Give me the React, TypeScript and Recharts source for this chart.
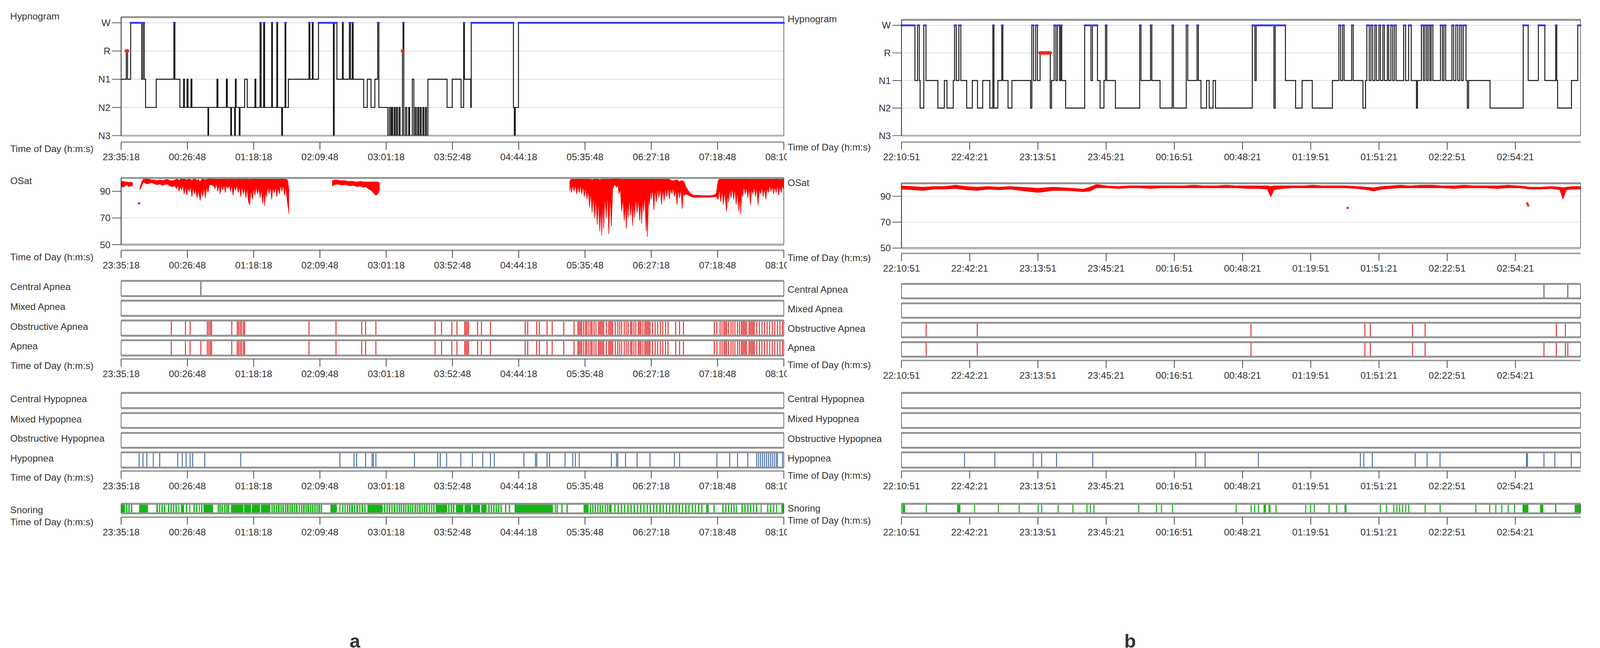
import React from 'react';
import {
  ComposedChart,
  Line,
  Area,
  XAxis,
  YAxis,
  CartesianGrid,
  ReferenceLine,
  ReferenceArea,
  ReferenceDot,
} from 'recharts';

// ---- data (times are minutes from the start of each recording) ----

const STAGES = ['N3', 'N2', 'N1', 'R', 'W'];

const A_END = 515;
const A_TICKS = [0, 51.5, 103, 154.5, 206, 257.5, 309, 360.5, 412, 463.5, 515];
const A_TICK_LABELS = ['23:35:18', '00:26:48', '01:18:18', '02:09:48', '03:01:18', '03:52:48', '04:44:18', '05:35:48', '06:27:18', '07:18:48', '08:10:18'];

const B_END = 313.6;
const B_TICKS = [0, 31.5, 63, 94.5, 126, 157.5, 189, 220.5, 252, 283.5];
const B_TICK_LABELS = ['22:10:51', '22:42:21', '23:13:51', '23:45:21', '00:16:51', '00:48:21', '01:19:51', '01:51:21', '02:22:51', '02:54:21'];

// hypnogram transitions: [minute, stage index]
const HYPNO_A = [
  [0, 2], [4, 3], [5, 2], [7.4, 4], [16, 2], [17, 4], [18, 2], [19, 1], [27.3, 2], [41, 4], [41.8, 2], [45.7, 1],
  [48.5, 2], [49.3, 1], [51.2, 2], [52, 1], [54.3, 2], [55, 1], [67.5, 0], [68, 1], [74.5, 2], [75.2, 1], [81.8, 2],
  [82.5, 1], [85.2, 0], [85.8, 1], [88.2, 0], [88.8, 2], [89.4, 1], [91.8, 0], [92.4, 1], [96, 2], [98, 1], [104, 2],
  [104.7, 1], [108, 4], [108.8, 1], [110.8, 4], [111.5, 1], [117, 4], [117.6, 1], [121, 4], [121.6, 1], [124.8, 0],
  [125.4, 1], [127.4, 4], [128, 1], [130, 2], [146, 4], [146.7, 2], [148.6, 4], [149.2, 2], [153.4, 4], [165, 0],
  [165.6, 4], [167.7, 2], [172, 4], [172.6, 2], [177.4, 4], [178.2, 2], [179.6, 4], [180.3, 2], [188.5, 1], [191.3, 2],
  [194.2, 1], [197.2, 2], [199.4, 4], [200.3, 1], [207.3, 0], [208.5, 1], [209.5, 0], [210.3, 1], [211, 0], [212.2, 1],
  [213, 0], [214, 1], [214.8, 0], [216, 1], [216.8, 0], [218.6, 3], [219.1, 4], [219.7, 0], [221, 1], [222, 0],
  [223.5, 1], [224.2, 0], [226.3, 2], [227.5, 0], [228.5, 1], [229.4, 0], [230.5, 1], [231.3, 0], [232.4, 1], [233.2, 0],
  [234.5, 1], [235.3, 0], [236.5, 1], [237.3, 0], [238.4, 2], [253.3, 1], [257.3, 2], [264.2, 1], [266.2, 4], [266.8, 2],
  [271.7, 1], [272.1, 4], [304.9, 1], [305.6, 0], [306.3, 1], [308.8, 4],
];

const HYPNO_B = [
  [0, 4], [6.2, 2], [7.4, 4], [8.2, 2], [8.6, 1], [10.3, 4], [11.3, 2], [16.8, 1], [19.8, 2], [21, 1], [23.9, 2],
  [24.5, 4], [25.3, 2], [26.5, 4], [27.4, 2], [30.1, 1], [32.7, 2], [35.1, 1], [37.5, 2], [40.8, 1], [42.2, 4], [42.7, 1],
  [44.5, 2], [46.3, 4], [46.8, 2], [49.2, 1], [51, 2], [59.6, 1], [60.2, 4], [61, 2], [62, 4], [62.8, 2], [64, 3],
  [68.7, 1], [69.3, 2], [70.5, 4], [71.3, 2], [72, 4], [73, 2], [73.5, 4], [74, 2], [75.8, 1], [84.6, 4], [87.5, 2],
  [88.2, 4], [90.5, 2], [91.7, 1], [93.5, 2], [94.2, 4], [94.8, 2], [98.8, 1], [110, 4], [110.6, 2], [115, 4], [115.6, 2],
  [119.4, 1], [125, 4], [125.6, 1], [131.5, 4], [132.2, 2], [136.5, 4], [137.1, 2], [138.3, 1], [140.9, 2], [142.1, 1],
  [143.9, 2], [145, 1], [162, 4], [163.2, 2], [163.8, 4], [172, 1], [172.6, 4], [177.3, 2], [182, 1], [185, 2],
  [189.7, 1], [199, 2], [202, 4], [202.8, 2], [203.7, 4], [204.4, 2], [207.9, 4], [208.6, 2], [213.1, 1], [214.3, 2],
  [214.9, 4], [216, 2], [216.8, 4], [217.6, 2], [218.6, 4], [219.3, 2], [220.5, 4], [221.2, 2], [222.3, 4], [223, 2],
  [224.4, 4], [225, 2], [226, 4], [226.8, 2], [227.6, 4], [228.4, 2], [231.9, 4], [232.8, 2], [234.2, 4], [235.4, 2],
  [237.8, 1], [238.3, 2], [240.1, 4], [241, 2], [241.7, 4], [242.5, 2], [243.2, 4], [244, 2], [244.6, 4], [245.4, 2],
  [248.9, 4], [249.8, 2], [250.5, 4], [251.3, 2], [254.2, 4], [255, 2], [256, 4], [256.9, 2], [257.8, 4], [258.6, 2],
  [259.4, 4], [260.7, 2], [261.3, 1], [261.9, 2], [271.8, 1], [287.1, 4], [289.4, 2], [294.1, 4], [297.1, 2],
  [302.1, 4], [302.6, 2], [303, 1], [309.4, 2], [312.3, 4],
];

// oxygen saturation: [minute, low, high] per interval, null = no signal
const OSAT_A = [
  [0, 94, 97], [1.5, 93, 97.5], [3, 94, 97], [4.5, 95, 97], [6, 93.5, 96.5], [7.5, 94, 97], [9, 94, 96], [10, null, null],
  [14.5, 91, 92], [16, 94, 97], [17.5, 97, 99.5], [19, 96, 100], [20.5, 95.5, 99], [22, 96, 99], [24, 96.5, 98.5],
  [26, 95.5, 98.5], [28, 95, 98], [30, 95.5, 98.5], [32, 94.5, 98], [34, 95, 98.5], [36, 95.5, 99], [38, 94, 98],
  [40, 93.5, 98], [42, 94, 98.5], [43, 92, 99], [44, 95, 99], [45, 90, 98], [46, 94, 99], [47, 91, 99], [48, 95, 99],
  [49, 88, 99], [50, 94, 99], [51, 87, 98.5], [52, 93, 99], [53, 90, 99], [54, 94, 99], [55, 86, 98], [56, 93, 99],
  [57, 88, 99.5], [58, 92, 99], [59, 85, 98], [60, 91, 99], [61.5, 83, 97], [62.5, 92, 99], [63.5, 86, 99], [64.5, 93, 99],
  [65.5, 85, 98.5], [66.5, 94, 99], [67.5, 89, 99], [68.5, 95, 99.5], [70, 95, 99.5], [72, 94, 99], [73, 92, 99],
  [74, 96, 99], [75, 90, 99], [76, 95, 99], [77, 88, 99], [78, 95, 99], [79, 91, 99.5], [80, 95, 99.5], [81, 89, 99],
  [82, 95, 99], [83, 92, 99], [84, 95, 99], [85, 90, 99.5], [86, 95, 99.5], [87, 87, 99], [88, 94, 99], [89, 91, 99],
  [90, 95, 99], [91, 89, 99.5], [92, 94, 99.5], [93, 86, 99], [94, 94, 99], [95, 88, 99], [96, 94, 99], [97, 85, 99.5],
  [98, 93, 99.5], [99, 82, 99], [100, 80, 99], [101, 92, 99], [102, 84, 99], [103, 93, 99.5], [104, 87, 99.5],
  [105, 94, 99], [106, 88, 99], [107, 93, 99], [108, 85, 99], [109, 92, 99], [110, 81, 99], [111, 90, 99],
  [111.5, 79, 99], [112.5, 92, 99], [113, 86, 99.5], [114, 94, 99], [115, 88, 99], [116, 94, 99], [117, 84, 99],
  [118, 93, 99], [119, 89, 99.5], [120, 94, 99], [121, 86, 99], [122, 93, 99], [123, 88, 99], [124, 95, 99],
  [125, 90, 99.5], [126, 95, 99], [127, 87, 99], [128, 94, 99], [128.5, 88, 99], [129.5, 80, 98], [130.5, 73, 90],
  [131, null, null],
  [164, 94, 98], [166, 95, 98.5], [168, 95.5, 98.5], [170, 95, 98], [172, 94.5, 98], [174, 95, 98], [176, 94.5, 97.5],
  [178, 94, 97.5], [180, 94.5, 97.5], [182, 94, 97], [184, 93.5, 97], [186, 94, 97.5], [188, 93, 97], [190, 93.5, 97],
  [192, 92, 97], [194, 91, 97], [196, 89, 97], [198, 87, 97], [199.5, 88, 97], [201, 91, 96], [202, null, null],
  [348.5, 90, 97], [349.5, 95, 99], [350, 89, 99], [351, 95, 99], [352, 90, 99], [353, 95, 99], [354, 88, 99],
  [355, 94, 99], [356, 89, 99], [357, 95, 99], [358, 88, 99.5], [359, 94, 99], [360, 86, 99], [361, 93, 99],
  [362, 84, 99], [363, 92, 99], [364, 78, 99], [365, 90, 99], [366, 74, 98.5], [367, 88, 99], [368, 70, 99],
  [369, 86, 99], [370, 65, 99], [371, 84, 99], [372, 60, 98.5], [373, 80, 99], [373.5, 57, 99], [374.5, 85, 99],
  [375, 62, 99], [376, 88, 99], [377, 70, 99], [378, 90, 99], [379, 58, 99], [380, 88, 99], [381, 64, 99],
  [382, 92, 99.5], [383, 94, 100], [384, 95, 100], [385, 93, 100], [386, 95, 99.5], [387, 88, 99.5], [388, 92, 99],
  [389, 75, 99], [390, 85, 99], [391, 68, 99], [392, 82, 99], [392.5, 62, 99], [393.5, 84, 99], [394, 70, 99],
  [395, 86, 99], [396, 72, 99], [397, 84, 99], [397.5, 64, 99], [398.5, 85, 99], [399, 70, 99], [400, 86, 99],
  [401, 74, 99], [402, 85, 99], [403, 68, 99], [404, 84, 99], [404.5, 66, 99], [405.5, 86, 99], [406, 75, 99],
  [407, 88, 99], [408, 60, 99], [408.5, 80, 99], [409, 56, 99], [410, 88, 99], [410.5, 80, 99], [411.5, 92, 99.5],
  [412, 84, 99.5], [413, 93, 99], [414, 76, 99], [415, 92, 99], [416, 82, 99], [417, 93, 99], [418, 85, 99.5],
  [419, 93, 99], [420, 80, 99], [421, 92, 99], [422, 83, 99], [423, 93, 99], [424, 86, 99], [425, 94, 99],
  [426, 84, 99], [427, 93, 98.5], [428, 88, 98], [429, 93, 98], [430, 86, 98], [431, 92, 98.5], [432, 80, 98.5],
  [433, 92, 98], [434, 85, 97], [435, 92, 98], [436, 77, 98], [437, 90, 97.5], [437.5, 87, 97], [439, 88, 93],
  [441, 87, 90], [443, 86, 88], [445, 85.5, 87], [448, 85.5, 87], [451, 85.5, 86.8], [454, 85.5, 86.8],
  [457, 85.5, 86.8], [460, 85.8, 87], [462.5, 86, 88], [464, 84, 98], [465, 92, 99], [466, 82, 99], [467, 91, 99],
  [468, 80, 99], [469, 90, 99], [470.5, 75, 99], [471.5, 90, 99], [472, 82, 99.5], [473, 92, 99], [474, 85, 99],
  [475, 93, 99], [476, 84, 99], [477, 92, 99], [478, 80, 99], [479, 91, 99], [480, 75, 99], [481, 88, 99],
  [481.5, 73, 99], [482.5, 92, 99], [483, 86, 99], [484, 94, 99], [485, 88, 99.5], [486, 94, 99], [487, 85, 99],
  [488, 93, 99], [489, 80, 99], [490, 92, 99], [491, 88, 99], [492, 94, 99], [493, 86, 99], [494, 93, 99],
  [495, 80, 99], [496, 92, 99], [497, 88, 99], [498, 94, 99], [499, 86, 99], [500, 93, 99], [501, 84, 99],
  [502, 93, 99], [503, 89, 99.5], [504, 95, 99], [505, 90, 99], [506, 94, 99], [507, 88, 99], [508, 94, 99],
  [509, 89, 99.5], [510, 95, 99], [511, 87, 99], [512, 94, 99], [513, 89, 99], [514, 95, 99], [515, 91, 99],
];
const OSAT_A_DOTS = [[14, 81]];

const OSAT_B = [
  [0, 95.5, 98], [5, 95, 97.5], [10, 94.5, 97], [15, 95.5, 97.5], [20, 95.5, 97.5], [25, 96, 98.5], [30, 95, 97.5],
  [35, 94.5, 97], [40, 95.5, 97.5], [45, 95, 97], [50, 95.5, 97.5], [55, 94.5, 97], [60, 93.5, 96.5], [63, 93, 96],
  [66, 93.5, 96.5], [70, 94.5, 97], [75, 94.5, 96.5], [80, 94, 96], [84, 93.5, 95.5], [87, 94, 97], [90, 96.5, 99],
  [95, 96.5, 98], [100, 96, 97.5], [105, 96.5, 98], [110, 96.5, 98], [115, 96, 98], [120, 96.5, 98], [125, 96.5, 98],
  [130, 96.5, 98], [135, 96.5, 98.5], [140, 96.5, 98], [145, 96.5, 98], [150, 96.5, 98.5], [155, 96.5, 98], [160, 96, 98],
  [165, 96, 98], [169, 95.5, 98], [170.5, 89.5, 97.5], [172, 95, 98], [176, 96, 98], [180, 96.5, 98], [185, 96.5, 98],
  [190, 96.5, 98.5], [195, 96.5, 98], [200, 96.5, 98], [205, 96.5, 98], [210, 96, 97.5], [215, 95, 97], [218, 94, 96.5],
  [222, 95.5, 97.5], [226, 96, 98], [230, 96.5, 98.5], [235, 96.5, 98], [240, 96.5, 98.5], [245, 96.5, 98.5],
  [250, 96.5, 98], [255, 96, 98], [260, 96.5, 98.5], [265, 96.5, 98], [270, 96.5, 98], [275, 96, 98], [280, 96.5, 98.5],
  [285, 96.5, 98], [288, 96, 97.5], [290, 95.5, 97], [295, 95.5, 97], [300, 96, 97.5], [304, 95, 97], [305.5, 88, 96.5],
  [307, 95, 97], [310, 95.5, 97.5], [313.6, 95.5, 97.5],
];
const OSAT_B_DOTS = [[206, 81], [289, 84.5], [289.4, 83]];

// respiratory events (minute of each event)
const CENTRAL_APNEA_A = [62];
const MIXED_APNEA_A = [];
const OBSTRUCTIVE_APNEA_A = [
  39, 50, 53.6, 67, 68.2, 69.3, 70.3, 86, 90.3, 91.3, 92.5, 93.6, 95, 96, 146, 167, 187, 190, 198, 244, 249, 257, 261,
  267, 268, 269, 270, 277, 280, 287, 314, 316, 323, 325, 331, 335, 344, 352, 355, 356, 357, 358, 359.5, 361, 362, 363.5,
  365, 366, 367.5, 369, 371, 372, 373, 374, 375, 377, 379, 380, 381, 382, 384, 386, 387.5, 389, 391, 392.5, 394, 396,
  397, 398.5, 400, 402, 403, 404, 405.5, 407, 408, 409, 410, 411, 413, 415, 417, 419, 421, 423, 425, 431, 434, 437,
  461, 463, 465.5, 467, 468.5, 469.5, 470.5, 472, 474, 475.5, 477, 479, 480.5, 482, 483, 484, 485, 486, 488, 489, 490,
  491, 492, 494, 496, 498, 500, 502, 504, 506, 508, 510, 512, 514,
];
const HYPOPNEA_A = [
  14, 17, 20, 25, 30, 44, 47.5, 50.5, 53.6, 55.6, 65, 93, 170, 181, 183, 190, 195, 196, 198, 228, 246, 248, 253, 264,
  273, 281, 287, 290, 313, 322, 323, 331, 333, 345, 351, 353, 356, 381, 385, 386, 392, 401, 411, 430, 434, 463, 473,
  479, 487, 494, 495.5, 497, 498.5, 500, 501.5, 503, 504.5, 506, 507.5, 509, 510, 514,
];
const SNORING_A = [
  [0, 3.1], [3.8, 4.9], [5.6, 6.7], [7.6, 8.7], [14, 20.9], [27.4, 28.6], [29.5, 30.4], [31.3, 32.4], [33.3, 34.4],
  [36.3, 37.4], [38.3, 39.4], [40.2, 41.3], [42.2, 43.3], [44.5, 45.3], [46.5, 48.9], [50.3, 51.4], [53, 53.8],
  [56.1, 57.2], [58.2, 59.3], [60.4, 61.2], [62.1, 63.2], [64, 71.5], [75, 76.1], [76.5, 77.5], [78, 79.1], [80, 81.1],
  [81.6, 82.7], [83, 84.1], [85.4, 95], [95.5, 101], [101.6, 108], [108.6, 116], [116.8, 117.8], [118.3, 119.5],
  [120.3, 121.3], [121.8, 123.2], [123.8, 124.8], [125.3, 126.5], [127.3, 128.3], [128.8, 130.2], [130.8, 131.8],
  [132.3, 133.6], [134.3, 135.3], [135.8, 137.2], [138, 139], [139.8, 140.9], [141.4, 142.7], [143.3, 144.3],
  [144.8, 146.2], [146.8, 147.8], [148.3, 149.5], [150.1, 151.2], [151.8, 152.8], [153.3, 154.6], [155.1, 156.2],
  [162.7, 167.7], [169.5, 170.4], [171.8, 172.8], [173.6, 174.5], [175.4, 176.4], [177.1, 178.2], [178.8, 180.2],
  [181, 182], [182.8, 184.2], [185, 186], [186.8, 188.2], [189, 190], [191.4, 203.3], [204.3, 205.4], [206.2, 207.3],
  [208, 209.2], [210, 211], [211.8, 213.2], [214, 215], [215.7, 216.8], [217.3, 218.3], [219, 220.2], [220.8, 221.8],
  [222.5, 223.7], [224.4, 225.4], [226.1, 227.2], [228, 229.2], [229.8, 230.8], [231.5, 232.8], [233.5, 234.5],
  [235.3, 236.4], [237, 238.2], [239, 240], [240.8, 241.8], [242.5, 243.6], [244.4, 253.3], [254.2, 255.3],
  [256.1, 257.2], [257.8, 259], [260.2, 266], [266.8, 272], [273, 279], [279.8, 284], [285.3, 286.4], [287.2, 288.3],
  [289.1, 290.2], [291, 292.1], [292.8, 294], [294.8, 295.8], [298.3, 299.3], [301.3, 302.3], [305.8, 335.6],
  [337, 337.8], [338.4, 339.4], [342.1, 343.1], [346.1, 347.1], [359.4, 363.3], [364.3, 365.3], [366.1, 367.2],
  [368, 369], [370, 371], [371.8, 372.8], [373.8, 374.8], [375.8, 376.8], [377.6, 378.6], [379.2, 381.2], [383.2, 384.2],
  [385.8, 386.8], [388.3, 389.4], [390.8, 391.8], [393.4, 394.4], [395.8, 396.8], [398.3, 399.4], [400.8, 401.8],
  [403.3, 404.4], [405.8, 406.8], [408.4, 409.4], [410.8, 411.8], [413.3, 414.4], [415.8, 416.8], [418.3, 419.4],
  [420.8, 421.8], [423.4, 424.4], [425.8, 426.8], [428.3, 429.4], [430.8, 431.8], [433.3, 434.4], [435.8, 436.8],
  [438.3, 439.4], [440.8, 441.8], [443.4, 444.4], [445.8, 446.8], [448.3, 449.4], [450.8, 451.8], [454.6, 456.6],
  [460.3, 461.3], [467.2, 468.2], [469.4, 470.4], [471.6, 472.6], [473.8, 474.8], [475.8, 476.8], [477.8, 478.6],
  [482.1, 483.2], [484.3, 485.3], [486.6, 487.6], [488.8, 489.8], [491, 492], [493.3, 494.4], [497, 497.8],
  [502, 503], [504.3, 505.3], [506.6, 507.6], [509, 509.8], [513.1, 515],
];

const CENTRAL_APNEA_B = [296.7, 307.7];
const MIXED_APNEA_B = [];
const OBSTRUCTIVE_APNEA_B = [11.4, 35, 161.4, 214, 216.5, 236, 241.8, 302.4, 306.6];
const HYPOPNEA_B = [
  29.1, 43.1, 60.8, 64.7, 71.6, 88.3, 135.9, 140.2, 164.8, 211.9, 213.5, 217.4, 237.2, 242.7, 248.7, 288.6, 289.1,
  296.7, 301.7, 309.3,
];
const SNORING_B = [
  [0.4, 1.7], [11.2, 11.7], [25.7, 27.2], [33.5, 34], [44.5, 45], [54.1, 54.6], [62.9, 63.4], [64.5, 65], [72.1, 72.6],
  [78.9, 79.4], [85.4, 85.9], [87, 87.5], [88.6, 89.1], [109.3, 109.8], [117.5, 118], [119.8, 120.3], [124.9, 125.4],
  [154.3, 154.8], [161.2, 161.7], [162.8, 163.3], [164.6, 165.1], [167.2, 168.3], [169.5, 170.4], [172.7, 173.2],
  [186.4, 186.9], [188.7, 189.2], [190.4, 190.9], [197.2, 197.7], [200.7, 201.2], [204.6, 205.5], [220.9, 221.4],
  [223.7, 224.2], [227.1, 227.6], [228.5, 229], [229.8, 230.3], [231.2, 231.7], [232.6, 233.1], [234, 234.5],
  [241.6, 242.1], [248.5, 249], [265, 265.5], [271.4, 271.9], [274.2, 274.7], [277, 277.5], [279.9, 280.4],
  [282.9, 283.4], [286.8, 289.5], [294.9, 296.4], [301.8, 302.4], [310.9, 313.6],
];

// ---- styling ----

const FONT = '"Liberation Sans", Arial, Helvetica, sans-serif';
const TXT = '#333';
const PAD = 8;
const BOTTOM = 26; // room under the plot for the lowest y tick label
const YW = 70;
const BORDER = '#929292';
const EDGE = '#444';
const APNEA_RED = '#e42424';
const tickStyle = { fontSize: 25, fill: TXT, fontFamily: FONT };

function Label({ x, y, text, size = 25, bold = false }) {
  return (
    <div
      style={{
        position: 'absolute', left: x, top: y, transform: 'translateY(-50%)', fontFamily: FONT,
        fontSize: size, color: TXT, whiteSpace: 'nowrap', lineHeight: 1, fontWeight: bold ? 700 : 400,
      }}
    >
      {text}
    </div>
  );
}

function Hypnogram({ x, w, y, h, end, data }) {
  const rows = data.map(([t, s]) => ({ t, s }));
  rows.push({ t: end, s: data[data.length - 1][1] });
  const epochs = data.map(([t, s], i) => ({ t0: t, t1: i + 1 < data.length ? data[i + 1][0] : end, s }));
  return (
    <div style={{ position: 'absolute', left: x - YW - PAD, top: y - PAD }}>
      <ComposedChart width={w + YW + 2 * PAD} height={h + PAD + BOTTOM} data={rows} margin={{ top: PAD, right: PAD, bottom: BOTTOM, left: PAD }}>
        <CartesianGrid vertical={false} stroke="#dedede" strokeWidth={2} />
        <XAxis type="number" dataKey="t" domain={[0, end]} allowDataOverflow hide />
        <YAxis
          type="number" domain={[0, 4.2]} ticks={[0, 1, 2, 3, 4]} interval={0} allowDataOverflow width={YW}
          tickFormatter={(v) => STAGES[v]} tickSize={24} tickMargin={4} tick={tickStyle}
          axisLine={{ stroke: '#222', strokeWidth: 2 }} tickLine={{ stroke: '#555', strokeWidth: 2 }}
        />
        <ReferenceLine y={4.2} stroke={BORDER} strokeWidth={5} />
        <ReferenceLine y={0} stroke="#b4b4b4" strokeWidth={5} />
        <ReferenceLine x={end} stroke={EDGE} strokeWidth={1.5} />
        <Line type="stepAfter" dataKey="s" stroke="#111" strokeWidth={2.4} dot={false} activeDot={false} isAnimationActive={false} />
        {epochs.filter((e) => e.s === 4).map((e, i) => (
          <ReferenceLine key={'w' + i} segment={[{ x: e.t0, y: 4 }, { x: e.t1, y: 4 }]} stroke="#3434ff" strokeWidth={5} strokeLinecap="round" />
        ))}
        {epochs.filter((e) => e.s === 3).map((e, i) => (
          <ReferenceLine key={'r' + i} segment={[{ x: e.t0, y: 3 }, { x: e.t1, y: 3 }]} stroke="#ff2020" strokeWidth={9} strokeLinecap="round" />
        ))}
      </ComposedChart>
    </div>
  );
}

function OSat({ x, w, y, h, end, data, dots }) {
  const rows = data.map(([t, lo, hi]) => ({ t, r: lo == null ? null : [lo, hi] }));
  return (
    <div style={{ position: 'absolute', left: x - YW - PAD, top: y - PAD }}>
      <ComposedChart width={w + YW + 2 * PAD} height={h + PAD + BOTTOM} data={rows} margin={{ top: PAD, right: PAD, bottom: BOTTOM, left: PAD }}>
        <CartesianGrid vertical={false} stroke="#e4e4e4" strokeWidth={2} />
        <XAxis type="number" dataKey="t" domain={[0, end]} allowDataOverflow hide />
        <YAxis
          type="number" domain={[50, 100]} ticks={[50, 70, 90]} interval={0} allowDataOverflow width={YW}
          tickSize={24} tickMargin={4} tick={tickStyle}
          axisLine={{ stroke: '#222', strokeWidth: 2 }} tickLine={{ stroke: '#555', strokeWidth: 2 }}
        />
        <ReferenceLine y={100} stroke={BORDER} strokeWidth={5} />
        <ReferenceLine y={50} stroke="#b4b4b4" strokeWidth={6} />
        <ReferenceLine x={end} stroke={EDGE} strokeWidth={1.5} />
        <Area
          type="linear" dataKey="r" stroke="#ff0000" strokeWidth={1.5} fill="#ff0000" fillOpacity={1}
          connectNulls={false} dot={false} activeDot={false} isAnimationActive={false}
        />
        {dots.map(([t, v], i) => (
          <ReferenceDot key={i} x={t} y={v} r={3} fill="#ff0000" stroke="none" />
        ))}
      </ComposedChart>
    </div>
  );
}

function EventRow({ x, w, y, h, end, events = [], intervals = [], color, width = 2 }) {
  return (
    <div style={{ position: 'absolute', left: x - PAD, top: y - PAD }}>
      <ComposedChart width={w + 2 * PAD} height={h + 2 * PAD} data={[{ t: 0, v: 0 }, { t: end, v: 1 }]} margin={{ top: PAD, right: PAD, bottom: PAD, left: PAD }}>
        <XAxis type="number" dataKey="t" domain={[0, end]} allowDataOverflow hide />
        <YAxis type="number" domain={[0, 1]} allowDataOverflow hide />
        <Line dataKey="v" stroke="none" dot={false} activeDot={false} isAnimationActive={false} />
        {intervals.map(([a, b], i) => (
          <ReferenceArea key={'i' + i} x1={a} x2={b} y1={0} y2={1} fill={color} fillOpacity={1} stroke="none" />
        ))}
        {events.map((t, i) => (
          <ReferenceLine key={'e' + i} x={t} stroke={color} strokeWidth={width} />
        ))}
        <ReferenceLine y={1} stroke={BORDER} strokeWidth={5} />
        <ReferenceLine y={0} stroke={BORDER} strokeWidth={5} />
        <ReferenceLine x={0} stroke={EDGE} strokeWidth={1.5} />
        <ReferenceLine x={end} stroke={EDGE} strokeWidth={1.5} />
      </ComposedChart>
    </div>
  );
}

function TimeAxis({ x, w, y, end, ticks, labels }) {
  const LEFT = 70;
  return (
    <div style={{ position: 'absolute', left: x - LEFT, top: y - 4 }}>
      <ComposedChart width={w + LEFT + PAD} height={74} data={[{ t: 0, v: 0 }, { t: end, v: 0 }]} margin={{ top: 2, right: PAD, bottom: 0, left: LEFT }}>
        <XAxis
          type="number" dataKey="t" domain={[0, end]} allowDataOverflow ticks={ticks} interval={0}
          tickFormatter={(v, i) => labels[i]} height={70} tickSize={20} tickMargin={10} tick={tickStyle}
          axisLine={{ stroke: '#9a9a9a', strokeWidth: 4 }} tickLine={{ stroke: '#444', strokeWidth: 2 }}
        />
        <YAxis type="number" domain={[0, 1]} hide />
        <Line dataKey="v" stroke="none" dot={false} activeDot={false} isAnimationActive={false} />
      </ComposedChart>
    </div>
  );
}

function Panel({ p }) {
  const { x, w, end, ticks, labels } = p;
  const ax = { x, w, end, ticks, labels };
  const row = (yy, hh) => ({ x, w, y: yy, h: hh, end });
  return (
    <>
      <Hypnogram x={x} w={w} y={p.hyp[0]} h={p.hyp[1]} end={end} data={p.hypno} />
      <TimeAxis {...ax} y={p.hypAxis} />
      <OSat x={x} w={w} y={p.osat[0]} h={p.osat[1]} end={end} data={p.osatData} dots={p.dots} />
      <TimeAxis {...ax} y={p.osatAxis} />
      <EventRow {...row(p.apnea[0], p.rowH)} events={p.ca} color="#222" width={1.8} />
      <EventRow {...row(p.apnea[1], p.rowH)} events={p.ma} color={APNEA_RED} />
      <EventRow {...row(p.apnea[2], p.rowH)} events={p.oa} color={APNEA_RED} width={2.4} />
      <EventRow {...row(p.apnea[3], p.rowH)} events={[...p.ca, ...p.ma, ...p.oa]} color={APNEA_RED} width={2.4} />
      <TimeAxis {...ax} y={p.apneaAxis} />
      <EventRow {...row(1031, 40)} />
      <EventRow {...row(1084, 39)} />
      <EventRow {...row(1136, 39)} />
      <EventRow {...row(1187, 40)} events={p.hy} color="#2f5f9f" width={2.2} />
      <TimeAxis {...ax} y={1236} />
      <EventRow {...row(1322, 25)} intervals={p.snore} color="#12b812" />
      <TimeAxis {...ax} y={1357} />
    </>
  );
}

const PANEL_A = {
  x: 318, w: 1740, end: A_END, ticks: A_TICKS, labels: A_TICK_LABELS, hypno: HYPNO_A, osatData: OSAT_A, dots: OSAT_A_DOTS,
  hyp: [45, 311], hypAxis: 373, osat: [467, 175], osatAxis: 657, apnea: [737, 789, 841, 893], rowH: 40, apneaAxis: 942,
  ca: CENTRAL_APNEA_A, ma: MIXED_APNEA_A, oa: OBSTRUCTIVE_APNEA_A, hy: HYPOPNEA_A, snore: SNORING_A,
};
const PANEL_B = {
  x: 2367, w: 1783, end: B_END, ticks: B_TICKS, labels: B_TICK_LABELS, hypno: HYPNO_B, osatData: OSAT_B, dots: OSAT_B_DOTS,
  hyp: [52, 304], hypAxis: 373, osat: [481, 170], osatAxis: 665, apnea: [745, 796, 847, 898], rowH: 38, apneaAxis: 946,
  ca: CENTRAL_APNEA_B, ma: MIXED_APNEA_B, oa: OBSTRUCTIVE_APNEA_B, hy: HYPOPNEA_B, snore: SNORING_B,
};

const TOD = 'Time of Day (h:m:s)';
const LABELS_A = [
  ['Hypnogram', 43], [TOD, 390], ['OSat', 475], [TOD, 675], ['Central Apnea', 753], ['Mixed Apnea', 805],
  ['Obstructive Apnea', 857], ['Apnea', 908], [TOD, 960], ['Central Hypopnea', 1047], ['Mixed Hypopnea', 1100],
  ['Obstructive Hypopnea', 1150], ['Hypopnea', 1203], [TOD, 1253], ['Snoring', 1338], [TOD, 1370],
];
const LABELS_B = [
  ['Hypnogram', 50], [TOD, 386], ['OSat', 480], [TOD, 677], ['Central Apnea', 760], ['Mixed Apnea', 811],
  ['Obstructive Apnea', 862], ['Apnea', 913], [TOD, 958], ['Central Hypopnea', 1047], ['Mixed Hypopnea', 1099],
  ['Obstructive Hypopnea', 1151], ['Hypopnea', 1203], [TOD, 1248], ['Snoring', 1334], [TOD, 1366],
];

// the whole figure is drawn on a slightly larger canvas and scaled down to the 4196px page
const SCALE = 0.975;

export default function App() {
  return (
    <div
      style={{
        position: 'absolute', left: 0, top: 0, width: 4196 / SCALE, height: 1658 / SCALE, background: '#fff',
        transform: `scale(${SCALE})`, transformOrigin: '0 0',
      }}
    >
      {LABELS_A.map(([t, y], i) => <Label key={'la' + i} x={27} y={y} text={t} />)}
      {LABELS_B.map(([t, y], i) => <Label key={'lb' + i} x={2068} y={y} text={t} />)}
      <Panel p={PANEL_A} />
      <Panel p={PANEL_B} />
      <Label x={918} y={1682} text="a" size={50} bold />
      <Label x={2952} y={1682} text="b" size={50} bold />
    </div>
  );
}
